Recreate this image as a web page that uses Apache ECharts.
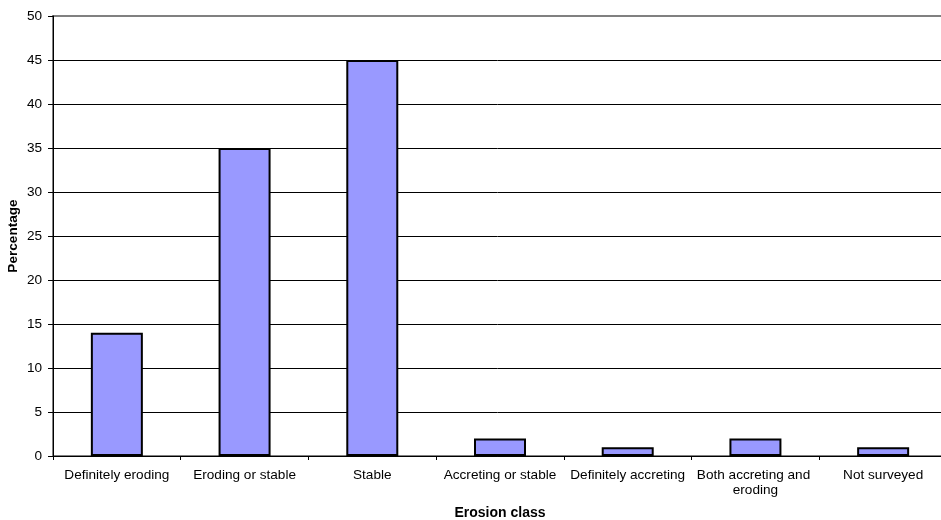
<!DOCTYPE html>
<html><head><meta charset="utf-8">
<script src="https://cdn.jsdelivr.net/npm/echarts@6/dist/echarts.min.js"></script>
<style>html,body{margin:0;padding:0;background:#fff}#c{width:941px;height:520px}</style>
</head><body><div id="c"></div>
<script>
const categories = ["Definitely eroding","Eroding or stable","Stable","Accreting or stable","Definitely accreting","Both accreting and eroding","Not surveyed"];
const percentages = [14, 35, 45, 2, 1, 2, 1];
const yTicks = {min: 0, max: 50, interval: 5};

const chart = echarts.init(document.getElementById('c'), null, {renderer: 'canvas'});
const font = 'Liberation Sans, Arial, sans-serif';
const gridColors = [];
for (let v = yTicks.min; v <= yTicks.max; v += yTicks.interval) gridColors.push(v === yTicks.max ? '#808080' : '#000');
chart.setOption({
  animation: false,
  backgroundColor: '#fff',
  textStyle: {fontFamily: font},
  grid: {left: 53, top: 16, bottom: 64, right: -6, containLabel: false, outerBoundsMode: 'none',
         show: true, borderColor: '#808080', borderWidth: 2, backgroundColor: 'transparent'},
  xAxis: {
    type: 'category', data: categories,
    name: 'Erosion class', nameLocation: 'middle', nameGap: 50, nameMoveOverlap: false,
    nameTextStyle: {fontFamily: font, fontSize: 14, fontWeight: 'bold', color: '#000'},
    axisLine: {lineStyle: {color: '#000', width: 1}},
    axisTick: {show: true, length: 4, lineStyle: {color: '#000'}},
    axisLabel: {fontFamily: font, fontSize: 13.6, color: '#000', margin: 12, width: 126, overflow: 'break', interval: 0, lineHeight: 15},
    splitLine: {show: false}
  },
  yAxis: {
    type: 'value', min: yTicks.min, max: yTicks.max, interval: yTicks.interval,
    name: 'Percentage', nameLocation: 'middle', nameGap: 33, nameRotate: 90, nameMoveOverlap: false,
    nameTextStyle: {fontFamily: font, fontSize: 13.6, fontWeight: 'bold', color: '#000'},
    axisLine: {show: true, lineStyle: {color: '#000', width: 1}},
    axisTick: {show: true, length: 5, lineStyle: {color: '#000'}},
    axisLabel: {fontFamily: font, fontSize: 13.6, color: '#000', margin: 11},
    splitLine: {show: true, lineStyle: {color: gridColors, width: 1}}
  },
  series: [{
    type: 'bar', data: percentages, barWidth: 52,
    itemStyle: {color: '#9999ff', borderColor: '#000', borderWidth: 2}
  }]
});
</script></body></html>
